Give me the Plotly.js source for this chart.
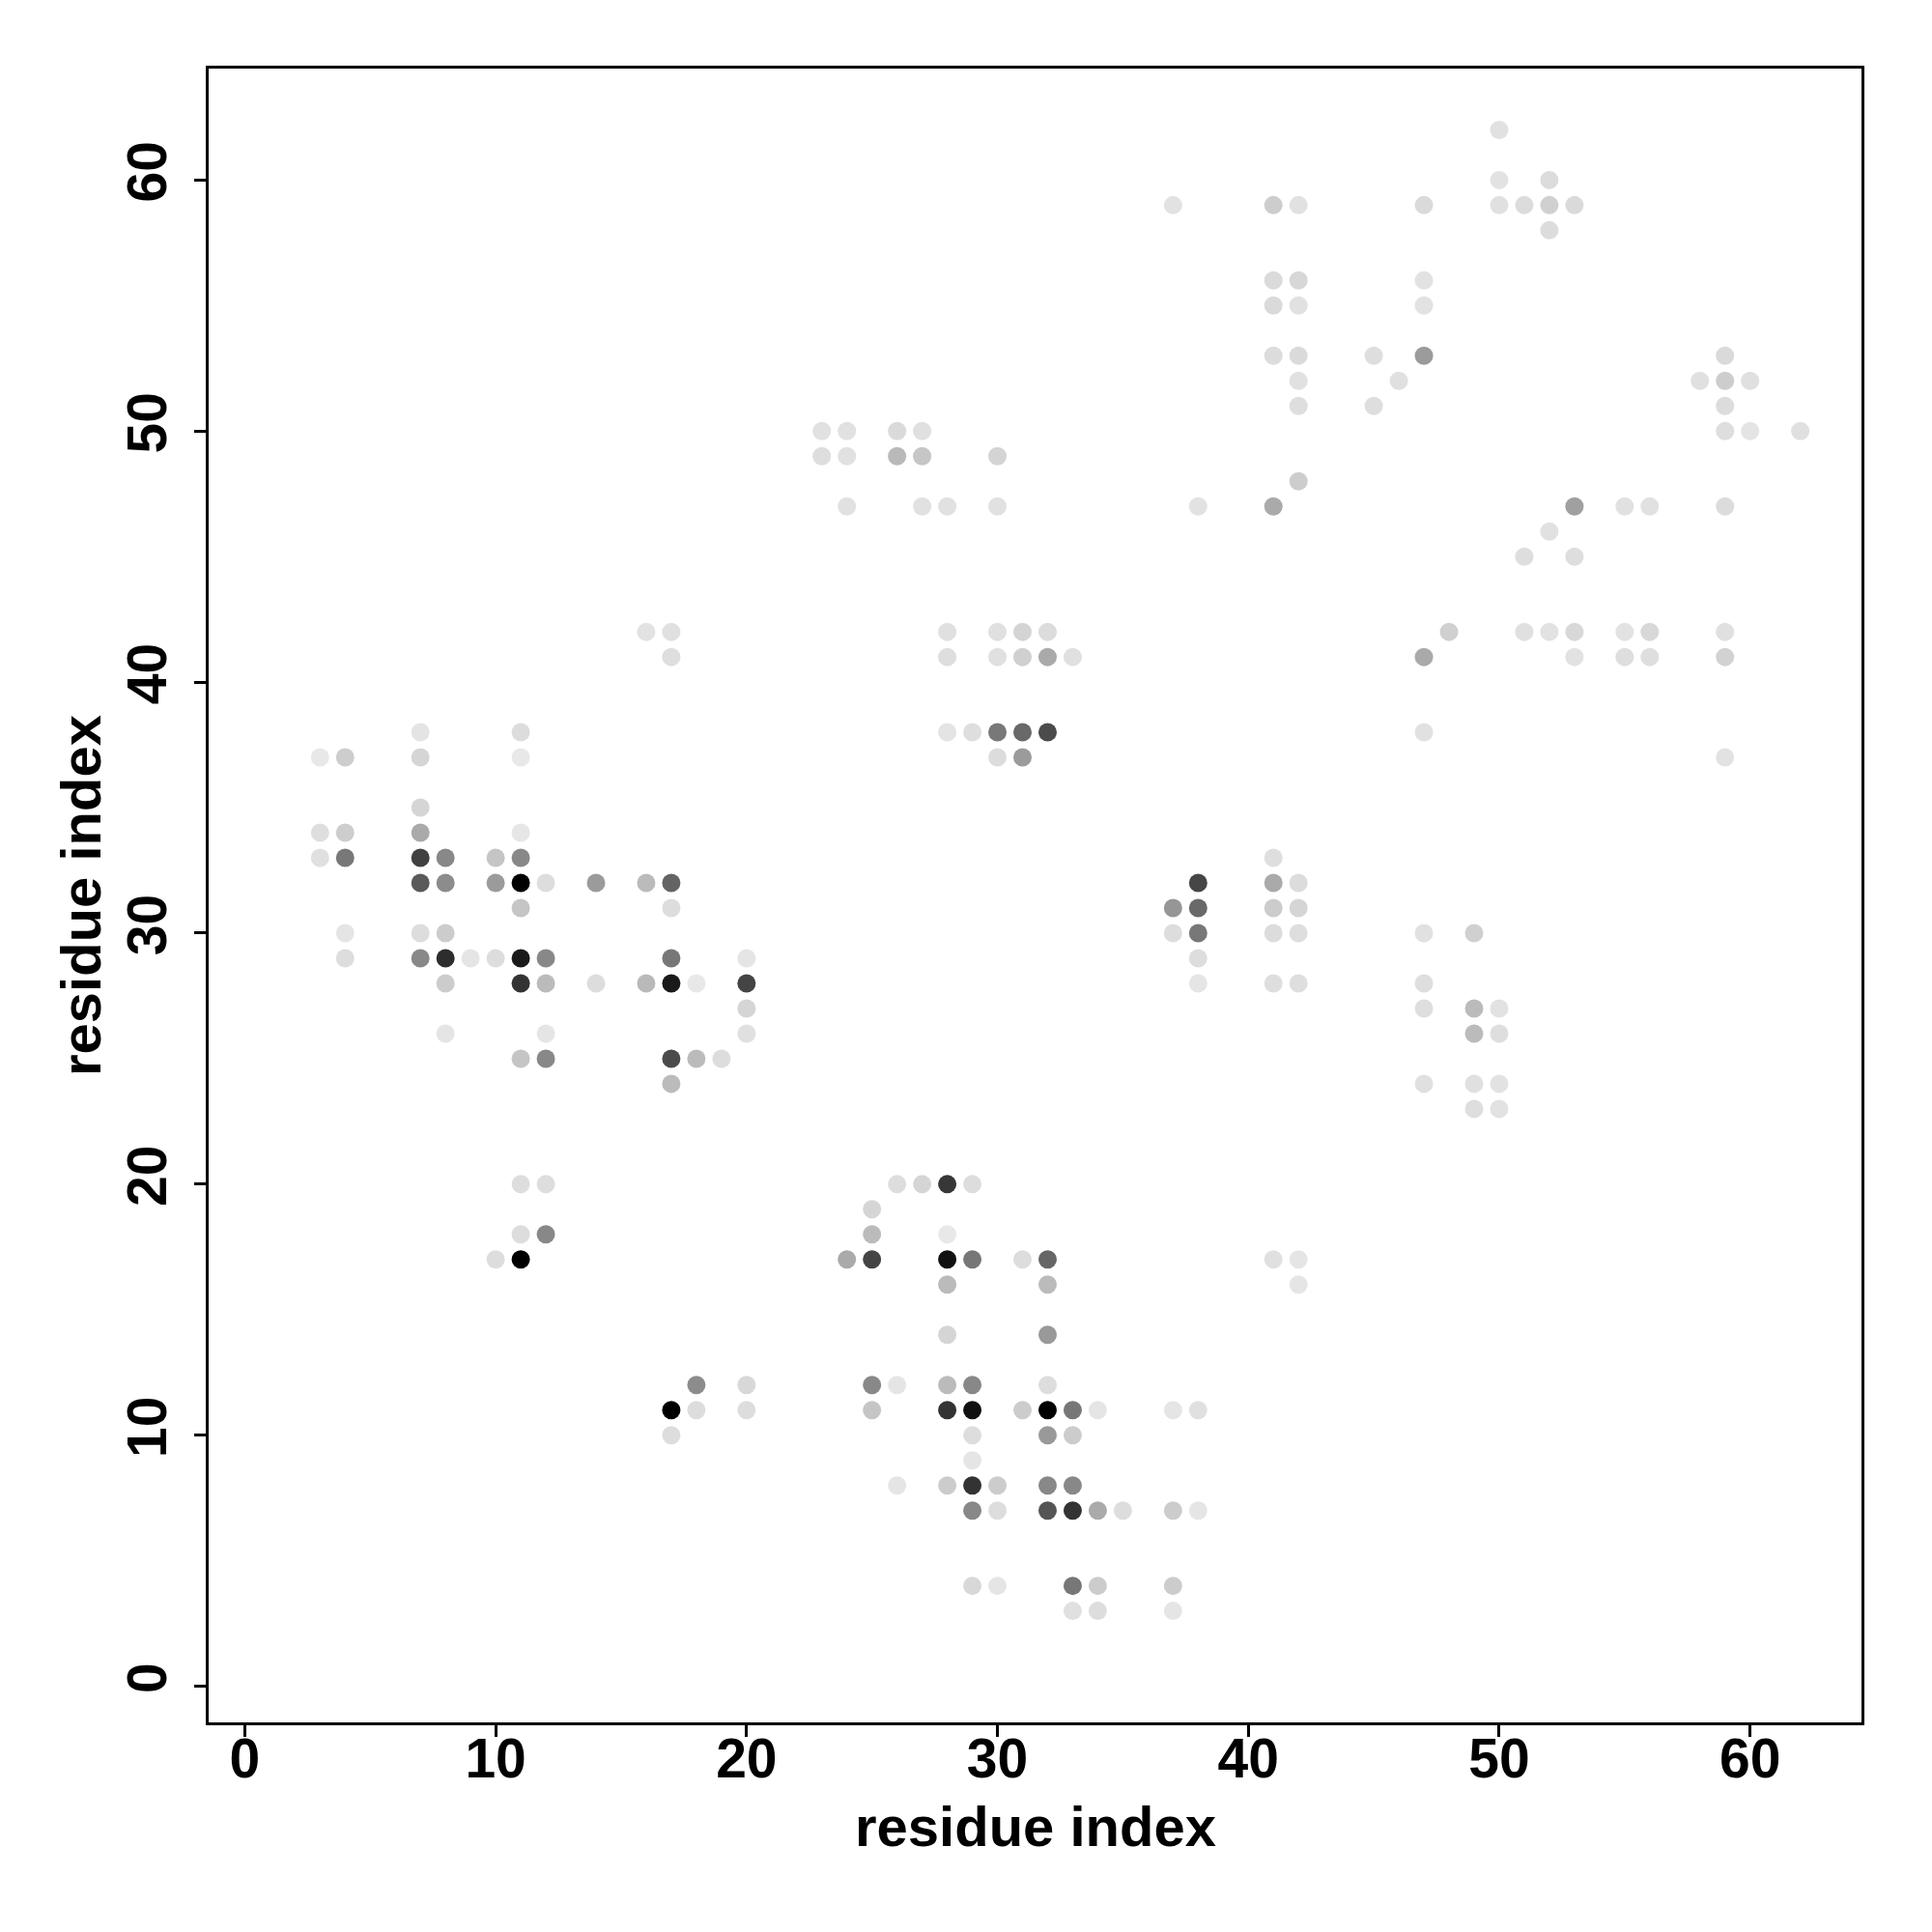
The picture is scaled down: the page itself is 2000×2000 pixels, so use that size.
<!DOCTYPE html>
<html>
<head>
<meta charset="utf-8">
<script src="https://cdn.plot.ly/plotly-3.0.1.min.js"></script>
<style>html,body{margin:0;padding:0;background:#fff;}</style>
</head>
<body>
<div id="chart" style="width:2000px;height:2000px;"></div>
<script>
// residue i (x), residue j (y), grey level of the dot (0 = black, 255 = white)
const resX = [
 50,
 50,52,
 37,41,42,47,50,51,52,53,
 52,
 41,42,47,
 41,42,47,
 41,42,45,47,59,
 42,46,58,59,60,
 42,45,59,
 23,24,26,27,59,60,62,
 23,24,26,27,30,
 42,
 24,27,28,30,38,41,53,55,56,59,
 52,
 51,53,
 16,17,28,30,31,32,48,51,52,53,55,56,59,
 17,28,30,31,32,33,47,53,55,56,59,
 7,11,28,29,30,31,32,47,
 3,4,7,11,30,31,59,
 7,
 3,4,7,11,
 3,4,7,8,10,11,41,
 7,8,10,11,12,14,16,17,38,41,42,
 11,17,37,38,41,42,
 4,7,8,37,38,41,42,47,49,
 4,7,8,9,10,11,12,17,20,38,
 8,11,12,14,16,17,18,20,38,41,42,47,
 20,47,49,50,
 8,12,20,49,50,
 11,12,17,18,19,
 17,47,49,50,
 49,50,
 11,12,26,27,28,29,
 25,
 11,12,25,28,
 10,11,24,25,28,29,31,32,41,42,
 28,32,42,
 28,32,
 18,20,25,26,28,29,32,
 17,18,20,25,28,29,31,32,33,34,37,38,
 17,29,32,33,
 29,
 26,28,29,30,32,33,
 29,30,32,33,34,35,37,38,
 29,30,33,34,37,
 33,34,37
];
const resY = [
 62,
 60,60,
 59,59,59,59,59,59,59,59,
 58,
 56,56,56,
 55,55,55,
 53,53,53,53,53,
 52,52,52,52,52,
 51,51,51,
 50,50,50,50,50,50,50,
 49,49,49,49,49,
 48,
 47,47,47,47,47,47,47,47,47,47,
 46,
 45,45,
 42,42,42,42,42,42,42,42,42,42,42,42,42,
 41,41,41,41,41,41,41,41,41,41,41,
 38,38,38,38,38,38,38,38,
 37,37,37,37,37,37,37,
 35,
 34,34,34,34,
 33,33,33,33,33,33,33,
 32,32,32,32,32,32,32,32,32,32,32,
 31,31,31,31,31,31,
 30,30,30,30,30,30,30,30,30,
 29,29,29,29,29,29,29,29,29,29,
 28,28,28,28,28,28,28,28,28,28,28,28,
 27,27,27,27,
 26,26,26,26,26,
 25,25,25,25,25,
 24,24,24,24,
 23,23,
 20,20,20,20,20,20,
 19,
 18,18,18,18,
 17,17,17,17,17,17,17,17,17,17,
 16,16,16,
 14,14,
 12,12,12,12,12,12,12,
 11,11,11,11,11,11,11,11,11,11,11,11,
 10,10,10,10,
 9,
 8,8,8,8,8,8,
 7,7,7,7,7,7,7,7,
 4,4,4,4,4,
 3,3,3
];
const greyLevel = [
 225,
 226,220,
 226,205,225,218,224,220,208,218,
 220,
 218,215,226,
 218,225,226,
 220,218,222,155,218,
 225,224,224,205,224,
 222,222,220,
 225,225,218,224,222,228,224,
 222,225,185,198,212,
 205,
 225,225,225,225,226,170,160,225,225,220,
 225,
 222,222,
 226,224,224,224,212,220,208,224,226,216,226,216,224,
 222,222,224,208,170,224,170,226,222,222,210,
 228,220,228,222,120,105,75,225,
 232,205,213,232,220,155,226,
 213,
 222,205,170,230,
 224,120,65,136,197,136,222,
 90,140,155,0,221,155,187,100,70,170,220,
 197,221,150,105,204,213,
 229,221,204,221,120,220,222,225,208,
 221,136,45,229,221,26,136,119,229,221,
 204,51,187,221,185,26,232,68,229,222,222,222,
 213,222,187,226,
 229,229,224,187,222,
 197,136,75,187,221,
 187,224,224,226,
 222,226,
 221,221,221,213,55,221,
 213,
 221,136,187,232,
 221,0,170,68,17,119,221,102,224,229,
 187,187,229,
 213,153,
 140,216,136,229,187,136,221,
 0,221,221,197,51,17,204,0,119,229,229,224,
 221,221,153,204,
 229,
 229,204,51,204,136,136,
 136,221,85,51,170,221,204,229,
 216,229,119,204,204,
 224,221,229
];

const tickVals = [0, 10, 20, 30, 40, 50, 60];
const tickText = ['0', '10', '20', '30', '40', '50', '60'];
const axisRange = [-1.44, 64.44];
const xTitle = 'residue index';
const yTitle = 'residue index';

const fontFamily = 'Liberation Sans, Arial, Helvetica, sans-serif';
const titleFont = {family: fontFamily, size: 58, color: '#000', weight: 'bold'};

const trace = {
  type: 'scatter',
  mode: 'markers',
  x: resX,
  y: resY,
  marker: {
    size: 19,
    color: greyLevel,
    cmin: 0,
    cmax: 255,
    colorscale: [[0, 'rgb(0,0,0)'], [1, 'rgb(255,255,255)']],
    showscale: false,
    line: {width: 0}
  },
  hoverinfo: 'x+y'
};

const axisCommon = {
  range: axisRange,
  tickvals: tickVals,
  ticktext: tickText,
  ticks: 'outside',
  ticklen: 12,
  tickwidth: 3,
  tickcolor: '#000',
  showline: true,
  linecolor: '#000',
  linewidth: 3,
  mirror: true,
  showgrid: false,
  zeroline: false,
  tickfont: {family: fontFamily, size: 57, color: '#000', weight: 'bold'}
};

const plotW = 2000 - 216 - 73;
const plotH = 2000 - 71 - 217;

const layout = {
  width: 2000,
  height: 2000,
  margin: {l: 216, r: 73, t: 71, b: 217, autoexpand: false},
  paper_bgcolor: '#fff',
  plot_bgcolor: '#fff',
  showlegend: false,
  xaxis: Object.assign({}, axisCommon, {ticklabelstandoff: -26}),
  yaxis: Object.assign({}, axisCommon, {tickangle: -90, ticklabelstandoff: 6}),
  annotations: [
    {
      text: xTitle, xref: 'paper', yref: 'paper',
      x: 0.5, y: -(1890 - 1783) / plotH,
      xanchor: 'center', yanchor: 'middle', showarrow: false, borderpad: 0, font: titleFont
    },
    {
      text: yTitle, xref: 'paper', yref: 'paper',
      x: -(216 - 83) / plotW, y: 0.5, textangle: -90,
      xanchor: 'center', yanchor: 'middle', showarrow: false, borderpad: 0, font: titleFont
    }
  ]
};

Plotly.newPlot('chart', [trace], layout, {staticPlot: true, displayModeBar: false});
</script>
</body>
</html>
